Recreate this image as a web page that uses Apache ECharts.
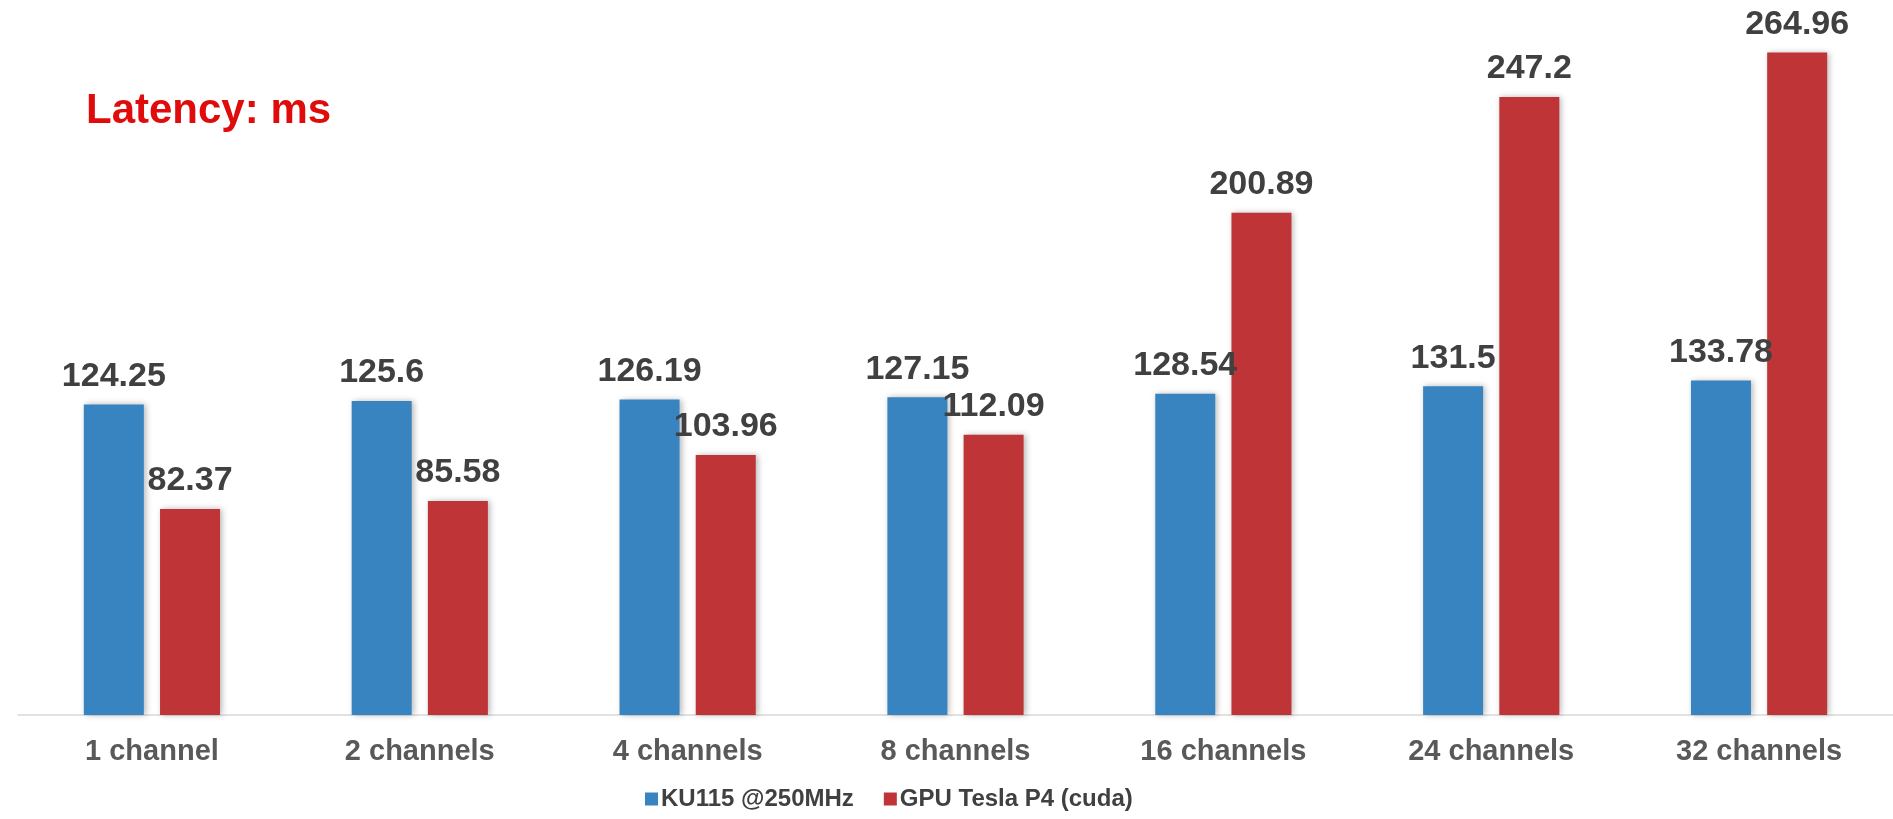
<!DOCTYPE html>
<html>
<head>
<meta charset="utf-8">
<title>Latency</title>
<script src="https://cdn.jsdelivr.net/npm/echarts@6/dist/echarts.min.js"></script>
<style>
  html, body { margin: 0; padding: 0; background: #ffffff; }
  #chart { width: 1893px; height: 819px; }
</style>
</head>
<body>
<div id="chart"></div>
<script>
// Latency per channel count (ms)
const categories = ['1 channel', '2 channels', '4 channels', '8 channels', '16 channels', '24 channels', '32 channels'];
const fpgaLatency = [124.25, 125.6, 126.19, 127.15, 128.54, 131.5, 133.78];
const gpuLatency = [82.37, 85.58, 103.96, 112.09, 200.89, 247.2, 264.96];
const seriesNames = ['KU115 @250MHz', 'GPU Tesla P4 (cuda)'];

const FONT = '"Liberation Sans", Arial, sans-serif';
const BLUE = '#3784c1';
const RED = '#bf3437';

const chart = echarts.init(document.getElementById('chart'), null, { renderer: 'canvas' });

const barShadow = {
  shadowBlur: 6,
  shadowColor: 'rgba(0,0,0,0.28)',
  shadowOffsetX: 2,
  shadowOffsetY: 0
};

const valueLabel = {
  show: true,
  position: 'top',
  distance: 11,
  color: '#404040',
  fontFamily: FONT,
  fontWeight: 'bold',
  fontSize: 34
};

chart.setOption({
  animation: false,
  backgroundColor: '#ffffff',
  title: {
    text: 'Latency: ms',
    left: 81,
    top: 85,
    textStyle: {
      color: '#e00b0b',
      fontFamily: FONT,
      fontWeight: 'bold',
      fontSize: 42
    }
  },
  legend: {
    data: seriesNames,
    left: 640,
    top: 782,
    icon: 'rect',
    itemWidth: 13,
    itemHeight: 13,
    itemGap: 30,
    textStyle: {
      color: '#404040',
      fontFamily: FONT,
      fontWeight: 'bold',
      fontSize: 24,
      padding: [0, 0, 0, -2]
    }
  },
  grid: {
    left: 18,
    top: 15,
    width: 1887,
    height: 700,
    containLabel: false
  },
  xAxis: {
    type: 'category',
    data: categories,
    boundaryGap: true,
    axisLine: { show: true, lineStyle: { color: '#d9d9d9', width: 1.5 } },
    axisTick: { show: false },
    axisLabel: {
      margin: 22,
      color: '#595959',
      fontFamily: FONT,
      fontWeight: 'bold',
      fontSize: 29
    }
  },
  yAxis: {
    type: 'value',
    min: 0,
    max: 280,
    show: false,
    splitLine: { show: false }
  },
  series: [
    {
      name: seriesNames[0],
      type: 'bar',
      data: fpgaLatency,
      barWidth: 60,
      barGap: '27%',
      itemStyle: Object.assign({ color: BLUE }, barShadow),
      label: valueLabel
    },
    {
      name: seriesNames[1],
      type: 'bar',
      data: gpuLatency,
      barWidth: 60,
      itemStyle: Object.assign({ color: RED }, barShadow),
      label: valueLabel
    }
  ]
});
</script>
</body>
</html>
